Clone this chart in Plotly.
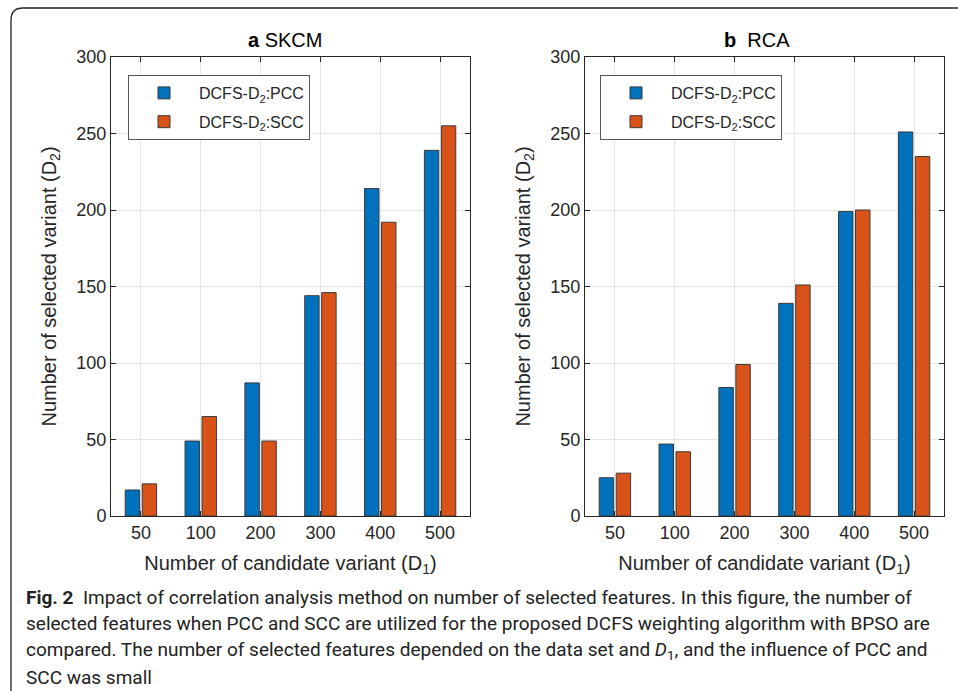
import plotly.graph_objects as go

W, H = 958, 691

categories = ["50", "100", "200", "300", "400", "500"]
skcm_pcc = [17, 49, 87, 144, 214, 239]
skcm_scc = [21, 65, 49, 146, 192, 255]
rca_pcc = [25, 47, 84, 139, 199, 251]
rca_scc = [28, 42, 99, 151, 200, 235]
series_names = ["DCFS-D<sub>2</sub>:PCC", "DCFS-D<sub>2</sub>:SCC"]
y_ticks = [0, 50, 100, 150, 200, 250, 300]
caption_lines = [
    "<b>Fig. 2</b>  Impact of correlation analysis method on number of selected features. In this figure, the number of",
    "selected features when PCC and SCC are utilized for the proposed DCFS weighting algorithm with BPSO are",
    "compared. The number of selected features depended on the data set and <i>D</i><sub>1</sub>, and the influence of PCC and",
    "SCC was small",
]

BLUE = "#0072BD"
ORANGE = "#D95319"
AX = "#262626"
FONT = "Arial"

def px_x(x):
    return x / W

def px_y(y):
    return 1 - y / H

fig = go.Figure()

panels = [
    ("x", "y", skcm_pcc, skcm_scc, "legend"),
    ("x2", "y2", rca_pcc, rca_scc, "legend2"),
]
for xa, ya, pcc, scc, lg in panels:
    for k, (vals, name, col) in enumerate([(pcc, series_names[0], BLUE), (scc, series_names[1], ORANGE)]):
        fig.add_trace(go.Bar(
            x=categories, y=vals, name=name, xaxis=xa, yaxis=ya, legend=lg,
            legendgroup=f"{lg}_{k}",
            marker=dict(color=col, line=dict(color="#3a3a3a", width=1)),
        ))

axis_common = dict(
    showline=True, linecolor=AX, linewidth=1, mirror="ticks",
    ticks="inside", ticklen=5, tickcolor=AX,
    showgrid=True, gridcolor="#e5e5e5", gridwidth=1,
    zeroline=False, automargin=False,
    tickfont=dict(family=FONT, size=18, color=AX),
)

xdom1 = [px_x(111), px_x(470)]
xdom2 = [px_x(585), px_x(944)]
ydom = [px_y(516), px_y(57)]

xtitle = dict(text="Number of candidate variant (D<sub>1</sub>)",
              font=dict(family=FONT, size=20, color=AX), standoff=14)
ytitle = dict(text="Number of selected variant (D<sub>2</sub>)",
              font=dict(family=FONT, size=20, color=AX), standoff=14)

legend_common = dict(xanchor="left", yanchor="top", bgcolor="white",
                     bordercolor="#555", borderwidth=1, itemwidth=60,
                     font=dict(family=FONT, size=16, color=AX), tracegroupgap=5)

fig.update_layout(
    width=W, height=H,
    margin=dict(l=0, r=0, t=0, b=0, pad=0),
    font=dict(family=FONT),
    paper_bgcolor="white", plot_bgcolor="white",
    barmode="group", bargap=0.433, bargroupgap=0.15,
    xaxis=dict(domain=xdom1, anchor="y", range=[-0.5, 5.5], title=xtitle, **axis_common),
    yaxis=dict(domain=ydom, anchor="x", range=[0, 300], tickvals=y_ticks, title=ytitle, **axis_common),
    xaxis2=dict(domain=xdom2, anchor="y2", range=[-0.5, 5.5], title=xtitle, **axis_common),
    yaxis2=dict(domain=ydom, anchor="x2", range=[0, 300], tickvals=y_ticks, title=ytitle, **axis_common),
    legend=dict(x=px_x(128), y=px_y(75), **legend_common),
    legend2=dict(x=px_x(600), y=px_y(75), **legend_common),
)

# panel titles
fig.add_annotation(x=px_x(285), y=px_y(40), xref="paper", yref="paper",
                   xanchor="center", yanchor="middle", text="<b>a</b> SKCM", showarrow=False,
                   font=dict(family=FONT, size=20, color="black"))
fig.add_annotation(x=px_x(757), y=px_y(40), xref="paper", yref="paper",
                   xanchor="center", yanchor="middle", text="<b>b</b>  RCA", showarrow=False,
                   font=dict(family=FONT, size=20, color="black"))

# caption, one annotation per line
for i, line in enumerate(caption_lines):
    fig.add_annotation(x=px_x(24), y=px_y(597 + 26.7 * i), xref="paper", yref="paper",
                       xanchor="left", yanchor="middle", align="left",
                       text=line, showarrow=False,
                       font=dict(family="Roboto", size=19, color="#222"))

# border frame (rounded top-left corner)
x0, y0, r = 11, 8, 12
path = (f"M {px_x(x0)} {px_y(H + 5)} L {px_x(x0)} {px_y(y0 + r)} "
        f"Q {px_x(x0)} {px_y(y0)} {px_x(x0 + r)} {px_y(y0)} L {px_x(W + 5)} {px_y(y0)}")
fig.add_shape(type="path", path=path, xref="paper", yref="paper",
              line=dict(color="#222", width=1.3))

fig.write_html("out.html")
